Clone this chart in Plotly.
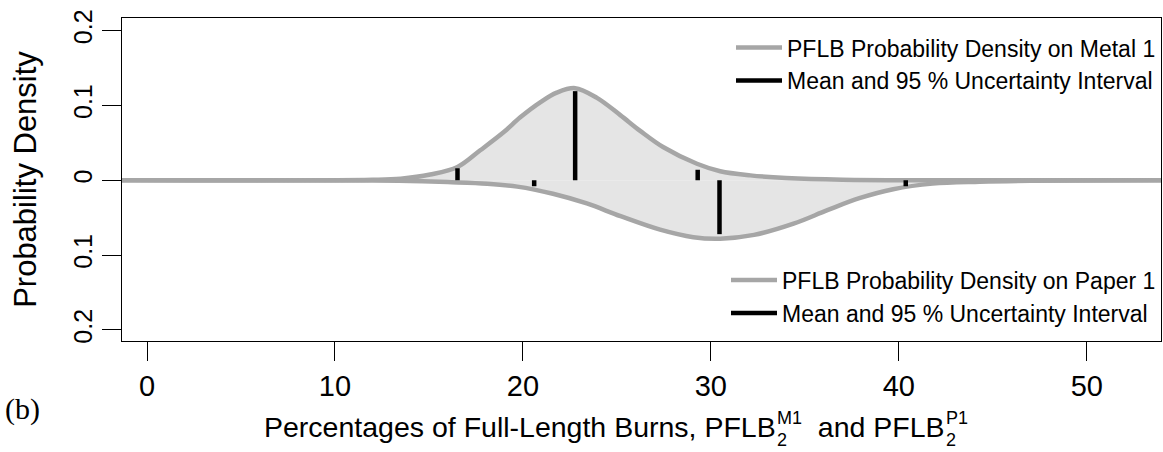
import plotly.graph_objects as go

# ---------------- data ----------------
x_metal = [-1.4, 12, 13.5, 15.07, 16.52, 17.73, 18.97, 19.86, 20.92, 21.8, 22.78,
           23.94, 25.18, 26.24, 27.48, 29.26, 30.5, 32.1, 34.0, 37.0, 54.5]
d_metal = [0, 0.0005, 0.002, 0.0076, 0.0177, 0.040, 0.064, 0.084, 0.104, 0.117, 0.123,
           0.110, 0.087, 0.066, 0.044, 0.022, 0.012, 0.0065, 0.003, 0.0008, 0]

x_paper = [-1.4, 12, 14, 16, 18.1, 19.7, 21.6, 23.4, 25.2, 27.3, 29.07, 30.5, 32.3,
           34.4, 36.2, 37.9, 39.7, 41.8, 44.3, 47, 54.5]
d_paper = [0, 0.0003, 0.001, 0.0025, 0.0046, 0.0085, 0.018, 0.031, 0.048, 0.066, 0.076,
           0.078, 0.073, 0.058, 0.040, 0.024, 0.012, 0.0045, 0.002, 0.0007, 0]

# lower 95% bound, mean, upper 95% bound and the bar heights drawn there
metal_stat_x = [16.52, 22.78, 29.3]
metal_stat_h = [0.016, 0.119, 0.014]
paper_stat_x = [20.6, 30.46, 40.37]
paper_stat_h = [0.008, 0.072, 0.008]

x_ticks = [0, 10, 20, 30, 40, 50]
y_ticks = [-0.2, -0.1, 0, 0.1, 0.2]
y_tick_text = ["0.2", "0.1", "0", "0.1", "0.2"]

name_metal = "PFLB Probability Density on Metal 1"
name_paper = "PFLB Probability Density on Paper 1"
name_stat = "Mean and 95 % Uncertainty Interval"

# ---------------- styling ----------------
W, H = 1163, 452
ML, MR, MT, MB = 122, 2, 18, 111
PW, PH = W - ML - MR, H - MT - MB
LINE_GRAY = "#a6a6a6"
FILL_GRAY = "#e5e5e5"
SANS = "Liberation Sans, Arial, sans-serif"
SERIF = "Liberation Serif, Times New Roman, serif"
SPL = dict(shape="spline", smoothing=1.0)

neg_paper = [-v for v in d_paper]


def seg_xy(xs, hs, sign):
    sx, sy = [], []
    for xv, hv in zip(xs, hs):
        sx += [xv, xv, None]
        sy += [0, sign * hv, None]
    return sx, sy


fig = go.Figure()
fig.add_trace(go.Scatter(x=x_metal, y=d_metal, mode="lines", fill="tozeroy",
                         fillcolor=FILL_GRAY, line=dict(width=0, **SPL),
                         showlegend=False, hoverinfo="skip"))
fig.add_trace(go.Scatter(x=x_paper, y=neg_paper, mode="lines", fill="tozeroy",
                         fillcolor=FILL_GRAY, line=dict(width=0, **SPL),
                         showlegend=False, hoverinfo="skip"))

mx, my = seg_xy(metal_stat_x, metal_stat_h, 1)
px_, py_ = seg_xy(paper_stat_x, paper_stat_h, -1)

fig.add_trace(go.Scatter(x=x_metal, y=d_metal, mode="lines", name=name_metal,
                         line=dict(color=LINE_GRAY, width=4.5, **SPL),
                         legend="legend", legendrank=1))
fig.add_trace(go.Scatter(x=x_paper, y=neg_paper, mode="lines", name=name_paper,
                         line=dict(color=LINE_GRAY, width=4.5, **SPL),
                         legend="legend2", legendrank=1))
fig.add_trace(go.Scatter(x=mx, y=my, mode="lines", name=name_stat,
                         line=dict(color="black", width=4.5), legend="legend", legendrank=2))
fig.add_trace(go.Scatter(x=px_, y=py_, mode="lines", name=name_stat,
                         line=dict(color="black", width=4.5), legend="legend2", legendrank=2))

# ---------------- x-axis title with stacked sub/superscripts ----------------
AW = {" ": 278, "P": 667, "e": 556, "r": 333, "c": 500, "n": 556, "t": 278, "a": 556,
      "g": 556, "s": 500, "o": 556, "f": 278, "F": 611, "u": 556, "l": 222, "-": 333,
      "L": 556, "h": 556, "B": 667, ",": 278, "d": 556, "M": 833, "1": 556, "2": 556}


def tw(s, size):
    return sum(AW.get(ch, 556) for ch in s) * size / 1000.0


S_MAIN, S_SMALL = 28.5, 18
seg1 = "Percentages of Full-Length Burns, PFLB"
seg2 = "  and PFLB"
sup1, sup2, sub = "M1", "P1", "2"
total = (tw(seg1, S_MAIN) + max(tw(sup1, S_SMALL), tw(sub, S_SMALL)) + tw(seg2, S_MAIN)
         + max(tw(sup2, S_SMALL), tw(sub, S_SMALL)))
TITLE_CENTER = 614
x0 = TITLE_CENTER - total / 2

BASE_MAIN, BASE_SUP, BASE_SUB = 437, 424, 446


def ann(text, xpx, base, size, family=SANS):
    return dict(text=text, xref="paper", yref="paper",
                x=(xpx - ML) / PW, y=(H - MB - (base + 0.212 * size + 1)) / PH,
                xanchor="left", yanchor="bottom", showarrow=False,
                font=dict(family=family, size=size, color="black"), borderpad=0)


annotations = []
cur = x0
annotations.append(ann(seg1, cur, BASE_MAIN, S_MAIN))
cur += tw(seg1, S_MAIN)
annotations.append(ann(sup1, cur + 1, BASE_SUP, S_SMALL))
annotations.append(ann(sub, cur + 1, BASE_SUB, S_SMALL))
cur += max(tw(sup1, S_SMALL), tw(sub, S_SMALL)) + 1
annotations.append(ann(seg2, cur, BASE_MAIN, S_MAIN))
cur += tw(seg2, S_MAIN)
annotations.append(ann(sup2, cur + 1, BASE_SUP, S_SMALL))
annotations.append(ann(sub, cur + 1, BASE_SUB, S_SMALL))
annotations.append(ann("(b)", 4, 420, 30, SERIF))

fig.update_layout(
    width=W, height=H,
    margin=dict(l=ML, r=MR, t=MT, b=MB, autoexpand=False),
    paper_bgcolor="white", plot_bgcolor="white",
    font=dict(family=SANS, color="black"),
    annotations=annotations,
    legend=dict(x=1, xanchor="right", y=0.975, yanchor="top", bgcolor="rgba(0,0,0,0)",
                font=dict(size=23, family=SANS), tracegroupgap=0, itemwidth=46),
    legend2=dict(x=1, xanchor="right", y=0.02, yanchor="bottom", bgcolor="rgba(0,0,0,0)",
                 font=dict(size=23, family=SANS), tracegroupgap=0, itemwidth=46),
)

fig.update_xaxes(range=[-1.33, 53.95], tickvals=x_ticks, ticks="outside", ticklen=19,
                 tickwidth=1.3, tickcolor="black", showline=True, mirror=True,
                 linecolor="black", linewidth=1.3, showgrid=False, zeroline=False,
                 tickfont=dict(size=29, family=SANS), automargin=False)
fig.update_yaxes(range=[-0.2147, 0.2167], tickvals=y_ticks, ticktext=y_tick_text,
                 tickangle=-90, ticks="outside", ticklen=19, tickwidth=1.3, tickcolor="black",
                 showline=True, mirror=True, linecolor="black", linewidth=1.3,
                 showgrid=False, zeroline=False, tickfont=dict(size=25, family=SANS),
                 title=dict(text="Probability Density", font=dict(size=31, family=SANS),
                            standoff=22),
                 automargin=False)

fig.write_html("out.html", config={"displayModeBar": False},
               post_script="document.body.style.margin='0px';"
                           "document.body.style.overflow='hidden';")
